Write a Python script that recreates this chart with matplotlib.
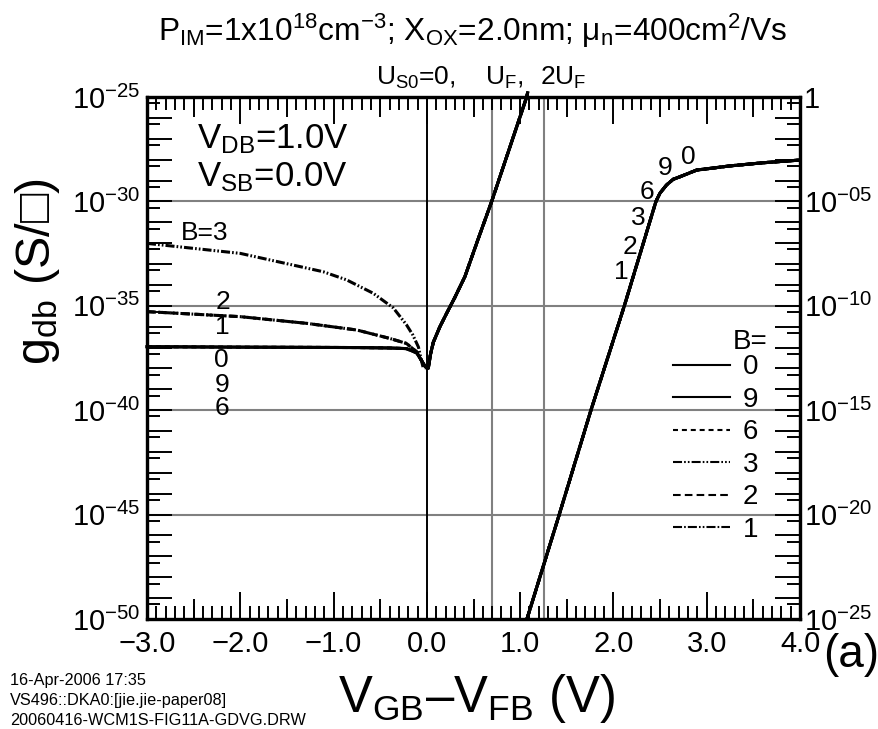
import numpy as np
import matplotlib
matplotlib.use("Agg")
import matplotlib.pyplot as plt
import matplotlib.transforms as mtransforms
from matplotlib.ticker import FixedLocator, NullFormatter

plt.rcParams['font.family'] = ['Liberation Sans', 'DejaVu Sans']
plt.rcParams['mathtext.fontset'] = 'custom'
plt.rcParams['mathtext.rm'] = 'Liberation Sans'
plt.rcParams['mathtext.it'] = 'Liberation Sans:italic'
plt.rcParams['mathtext.bf'] = 'Liberation Sans:bold'
plt.rcParams['lines.scale_dashes'] = False

# bias B of each curve
b_values = ['0', '9', '6', '3', '2', '1']

# accumulation side, log10 g_db (left axis)
v_acc = [-3.0, -2.0, -1.29, -0.75, -0.40, -0.22, -0.11, -0.06, -0.02, 0.015]
logg_acc_069 = [-36.96, -36.98, -36.99, -37.00, -37.02, -37.05, -37.25, -37.60, -37.90, -37.99]
logg_acc_12 = [-35.28, -35.52, -35.84, -36.16, -36.56, -36.80, -37.20, -37.60, -37.90, -37.99]
v_acc3 = [-3.0, -2.0, -1.11, -0.86, -0.575, -0.36, -0.22, -0.15, -0.09, -0.06, -0.04, 0.015]
logg_acc_3 = [-32.01, -32.49, -33.37, -33.76, -34.40, -35.10, -35.90, -36.40, -36.98, -37.60, -37.95, -37.99]

# depletion side, same for every B (left axis)
v_dep = [0.015, 0.04, 0.069, 0.14, 0.212, 0.30, 0.408, 0.55, 0.695, 1.07, 1.08]
logg_dep = [-37.99, -37.30, -36.75, -36.00, -35.36, -34.60, -33.60, -31.80, -30.0, -25.0, -24.8]

# inversion, same for every B (right axis)
v_inv = [1.073, 1.419, 1.759, 2.117, 2.456, 2.498, 2.57, 2.641, 2.713, 2.892, 3.249, 3.603, 4.0]
logg_inv = [-25.0, -20.0, -15.0, -10.0, -5.0, -4.61, -4.21, -3.94, -3.82, -3.50, -3.30, -3.15, -3.02]

# surface potential markers U_S0=0, U_F, 2U_F
v_marks = [0.0, 0.70, 1.257]

acc_branch = {
    '0': (v_acc, logg_acc_069),
    '9': (v_acc, logg_acc_069),
    '6': (v_acc, logg_acc_069),
    '3': (v_acc3, logg_acc_3),
    '2': (v_acc, logg_acc_12),
    '1': (v_acc, logg_acc_12),
}

dash_styles = {
    '0': (None, None),
    '9': (None, None),
    '6': (3.6, 2.8),
    '3': (6.5, 1.5, 1.2, 1.5, 1.2, 1.5),
    '2': (5.5, 3.0),
    '1': (6.5, 1.5, 1.2, 1.5, 6.5, 1.5, 1.2, 1.5, 1.2, 1.5),
}

# labels next to the curves: (V, log10 g)
acc_label_v = [-2.19, -2.19, -2.20, -2.20, -2.20]
acc_label_text = ['2', '1', '0', '9', '6']
acc_label_logg = [-34.80, -36.00, -37.60, -38.79, -39.89]
inv_label_text = ['1', '2', '3', '6', '9', '0']
inv_label_v = [2.08, 2.18, 2.27, 2.36, 2.55, 2.80]
inv_label_logg = [-8.38, -7.17, -5.81, -4.54, -3.41, -2.86]

fig = plt.figure(figsize=(8.79, 7.29), dpi=100)
ax = fig.add_axes([0.16724, 0.15089, 0.74289, 0.71605])
ax.set_yscale('log')
ax.set_xlim(-3.0, 4.0)
ax.set_ylim(1e-50, 1e-25)

grey = '#808080'
for d in [-30, -35, -40, -45]:
    ax.axhline(10.0 ** d, color=grey, lw=1.5, zorder=1)
ax.axvline(v_marks[0], color='black', lw=1.4, zorder=1)
for v in v_marks[1:]:
    ax.axvline(v, color=grey, lw=1.5, zorder=1)

handles = []
for b in b_values:
    va, la = acc_branch[b]
    x = list(va) + v_dep
    y = 10.0 ** np.array(list(la) + logg_dep)
    line, = ax.plot(x, y, color='black', lw=2.2, label=b, clip_on=False, zorder=3)
    if dash_styles[b][0] is not None:
        line.set_dashes(dash_styles[b])
    handles.append(line)

ax2 = ax.twinx()
ax2.set_yscale('log')
ax2.set_ylim(1e-25, 1.0)
for b in b_values:
    line, = ax2.plot(v_inv, 10.0 ** np.array(logg_inv), color='black', lw=2.2, zorder=3)
    if dash_styles[b][0] is not None:
        line.set_dashes(dash_styles[b])

# x ticks
x_major = np.arange(-3, 5)
ax.xaxis.set_major_locator(FixedLocator(x_major))
ax.set_xticklabels([f"{v:.1f}".replace('-', '\u2212') for v in x_major])
ax.xaxis.set_minor_locator(FixedLocator(np.round(np.arange(-3.0, 4.01, 0.1), 2)))
ax.tick_params(axis='x', which='both', direction='in', top=True, bottom=True, width=1.4)
ax.tick_params(axis='x', which='major', length=19.4, labelsize=21, pad=8)
ax.tick_params(axis='x', which='minor', length=9.4)
half_ticks = np.arange(-2.5, 4.0, 1.0)
for side in ['bottom', 'top']:
    sec = ax.secondary_xaxis(side)
    sec.set_xticks(half_ticks)
    sec.tick_params(axis='x', direction='in', length=14.4, width=1.4,
                    labelbottom=False, labeltop=False)
    sec.spines[side].set_visible(False)

# left y ticks
left_dec = np.arange(-50, -24)
ax.yaxis.set_major_locator(FixedLocator(10.0 ** left_dec))
ax.set_yticklabels([f"$10^{{{d}}}$" if d % 5 == 0 else '' for d in left_dec])
ax.yaxis.set_minor_locator(FixedLocator(5 * 10.0 ** (left_dec[1:] - 1)))
ax.yaxis.set_minor_formatter(NullFormatter())
ax.tick_params(axis='y', which='both', direction='in', left=True, right=False, width=1.4)
ax.tick_params(axis='y', which='major', length=18, labelsize=21, pad=4.5)
ax.tick_params(axis='y', which='minor', length=9.4)

# right y ticks
right_dec = np.arange(-25, 1)
ax2.yaxis.set_major_locator(FixedLocator(10.0 ** right_dec))
ax2.set_yticklabels(['1' if d == 0 else (f"$10^{{-{-d:02d}}}$" if d % 5 == 0 else '')
                     for d in right_dec])
ax2.yaxis.set_minor_locator(FixedLocator(5 * 10.0 ** (right_dec[1:] - 1)))
ax2.yaxis.set_minor_formatter(NullFormatter())
ax2.tick_params(axis='y', which='both', direction='in', right=True, width=1.4)
ax2.tick_params(axis='y', which='major', length=18, labelsize=21, pad=3)
ax2.tick_params(axis='y', which='minor', length=9.4)

for a in (ax, ax2):
    for s in a.spines.values():
        s.set_linewidth(2.3)

# curve labels
ax.text(-2.635, 10.0 ** -31.51, 'B=3', fontsize=19, ha='left', va='center')
for t, v, lg in zip(acc_label_text, acc_label_v, acc_label_logg):
    ax.text(v, 10.0 ** lg, t, fontsize=19, ha='center', va='center')
for t, v, lg in zip(inv_label_text, inv_label_v, inv_label_logg):
    ax2.text(v, 10.0 ** lg, t, fontsize=19, ha='center', va='center')

ax.text(0.0766, 0.902, r"V$_{\mathrm{DB}}$=1.0V", transform=ax.transAxes, fontsize=25, va='baseline')
ax.text(0.0766, 0.828, r"V$_{\mathrm{SB}}$=0.0V", transform=ax.transAxes, fontsize=25, va='baseline')

# legend: key lines with B numbers, heading above
ax2.text(0.9234, 0.531, 'B=', transform=ax2.transAxes, fontsize=20, ha='center', va='center')
leg = ax2.legend(handles, b_values, loc='upper left',
                 bbox_to_anchor=(0.806, 0.5070), frameon=False, fontsize=20,
                 handlelength=2.05, handletextpad=0.45, labelspacing=0.234,
                 borderpad=0, borderaxespad=0)
for h in leg.get_lines():
    h.set_linewidth(1.5)

# potential markers above the frame
trans = mtransforms.blended_transform_factory(ax.transData, ax.transAxes)
ax.text(-0.546, 1.023, r"U$_{\mathrm{S0}}$=0,", transform=trans, fontsize=19, va='baseline')
ax.text(0.622, 1.023, r"U$_{\mathrm{F}}$,", transform=trans, fontsize=19, va='baseline')
ax.text(1.212, 1.023, r"2U$_{\mathrm{F}}$", transform=trans, fontsize=19, va='baseline')

fig.text(472 / 879, 1 - 41 / 729,
         r"P$_{\mathrm{IM}}$=1x10$^{18}$cm$^{-3}$; X$_{\mathrm{OX}}$=2.0nm; μ$_{\mathrm{n}}$=400cm$^{2}$/Vs",
         ha='center', va='baseline', fontsize=22.8)
fig.text(38 / 879, 1 - 272 / 729, r"g$_{\mathrm{db}}$ (S/□)", rotation=90,
         ha='center', va='center', fontsize=35)
fig.text(477 / 879, 1 - 712 / 729, r"V$_{\mathrm{GB}}$–V$_{\mathrm{FB}}$ (V)",
         ha='center', va='baseline', fontsize=36.5)
fig.text(851 / 879, 1 - 667 / 729, "(a)", ha='center', va='baseline', fontsize=33)

notes = ["16-Apr-2006 17:35", "VS496::DKA0:[jie.jie-paper08]", "20060416-WCM1S-FIG11A-GDVG.DRW"]
for i, s in enumerate(notes):
    fig.text(10 / 879, 1 - (685 + 20 * i) / 729, s, ha='left', va='baseline', fontsize=11.7)

fig.savefig('out.png', dpi=100)
